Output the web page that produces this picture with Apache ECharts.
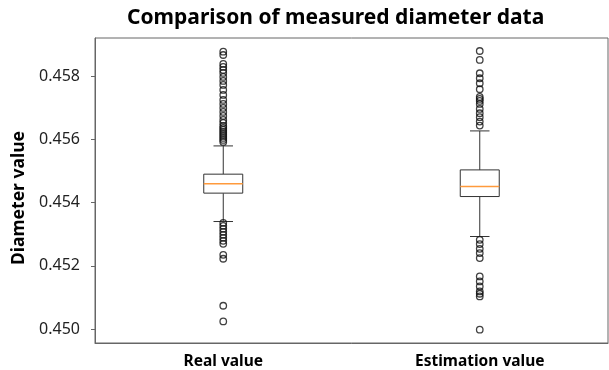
<!DOCTYPE html>
<html>
<head>
<meta charset="utf-8">
<script src="https://cdn.jsdelivr.net/npm/echarts@6/dist/echarts.min.js"></script>
<style>
  html, body { margin: 0; padding: 0; background: #fff; }
  #main { width: 609px; height: 370px; }
</style>
</head>
<body>
<div id="main"></div>
<script>
// categories
var categories = ["Real value", "Estimation value"];

// box stats: [low whisker, Q1, median, Q3, high whisker]
var realBox = [0.453405, 0.454304, 0.454598, 0.454905, 0.455800];
var estBox = [0.452930, 0.454196, 0.454513, 0.455040, 0.456275];

// outliers
var realOutliers = [
  0.458785, 0.458680, 0.458396, 0.458301, 0.458206, 0.458111, 0.457984,
  0.457858, 0.457731, 0.457573, 0.457415, 0.457256, 0.457130, 0.457003,
  0.456877, 0.456750, 0.456623, 0.456528, 0.456434, 0.456370, 0.456307,
  0.456244, 0.456180, 0.456117, 0.456054, 0.455991, 0.455927,
  0.453364, 0.453269, 0.453174, 0.453079, 0.452984, 0.452889, 0.452794,
  0.452699, 0.452351, 0.452225, 0.450737, 0.450240
];
var estOutliers = [
  0.458807, 0.458522, 0.458101, 0.457943, 0.457785, 0.457595, 0.457351,
  0.457288, 0.457225, 0.457130, 0.456972, 0.456835, 0.456709, 0.456570,
  0.456443,
  0.452826, 0.452690, 0.452541, 0.452405, 0.452247, 0.451665, 0.451506,
  0.451348, 0.451190, 0.451117, 0.451032, 0.449978
];

// y tick labels
var yTicks = [0.450, 0.452, 0.454, 0.456, 0.458];

var boxData = [[0].concat(realBox), [1].concat(estBox)];
var outlierData = realOutliers.map(function (v) { return [0, v]; })
  .concat(estOutliers.map(function (v) { return [1, v]; }));

var chart = echarts.init(document.getElementById("main"));

var option = {
  animation: false,
  title: {
    text: "Comparison of measured diameter data",
    left: 122,
    top: 3,
    textStyle: {
      fontFamily: "Noto Sans",
      fontWeight: "bold",
      fontSize: 21,
      color: "#000"
    }
  },
  grid: {
    left: 95,
    right: 1,
    top: 38,
    bottom: 27,
    show: true,
    borderColor: "#666",
    borderWidth: 1
  },
  xAxis: {
    type: "category",
    data: categories,
    axisLine: { lineStyle: { color: "#666" } },
    axisTick: { alignWithLabel: true, length: 4, lineStyle: { color: "#666" } },
    axisLabel: {
      margin: 11,
      fontFamily: "Noto Sans",
      fontWeight: "bold",
      fontSize: 15.5,
      color: "#000"
    }
  },
  yAxis: {
    type: "value",
    min: 0.449557,
    max: 0.459218,
    name: "Diameter value",
    nameLocation: "middle",
    nameGap: 64,
    nameTextStyle: {
      fontFamily: "Noto Sans",
      fontWeight: "bold",
      fontSize: 17.5,
      color: "#000",
      padding: [0, 15, 0, 0]
    },
    splitLine: { show: false },
    axisLine: { show: true, lineStyle: { color: "#666" } },
    axisTick: { show: true, length: 4, customValues: yTicks, lineStyle: { color: "#666" } },
    axisLabel: {
      customValues: yTicks,
      margin: 15,
      fontFamily: "Noto Sans",
      fontSize: 16,
      color: "#222",
      formatter: function (v) { return v.toFixed(3); }
    }
  },
  series: [
    {
      type: "custom",
      data: boxData,
      encode: { x: 0, y: [1, 2, 3, 4, 5] },
      renderItem: function (params, api) {
        var x = api.value(0);
        var lo = api.coord([x, api.value(1)]);
        var q1 = api.coord([x, api.value(2)]);
        var md = api.coord([x, api.value(3)]);
        var q3 = api.coord([x, api.value(4)]);
        var hi = api.coord([x, api.value(5)]);
        var band = api.size([1, 0])[0];
        var half = band * 0.076;
        var cap = half / 2;
        var cx = lo[0];
        var stroke = { stroke: "#333", lineWidth: 1, fill: null };
        return {
          type: "group",
          children: [
            { type: "line", shape: { x1: cx, y1: q3[1], x2: cx, y2: hi[1] }, style: stroke },
            { type: "line", shape: { x1: cx, y1: q1[1], x2: cx, y2: lo[1] }, style: stroke },
            { type: "line", shape: { x1: cx - cap, y1: hi[1], x2: cx + cap, y2: hi[1] }, style: stroke },
            { type: "line", shape: { x1: cx - cap, y1: lo[1], x2: cx + cap, y2: lo[1] }, style: stroke },
            {
              type: "rect",
              shape: { x: cx - half, y: q3[1], width: half * 2, height: q1[1] - q3[1] },
              style: { stroke: "#333", lineWidth: 1, fill: "#fff" }
            },
            {
              type: "line",
              shape: { x1: cx - half, y1: md[1], x2: cx + half, y2: md[1] },
              style: { stroke: "#ff9a3c", lineWidth: 1.5 }
            }
          ]
        };
      },
      z: 2
    },
    {
      type: "scatter",
      data: outlierData,
      symbol: "circle",
      symbolSize: 6.5,
      itemStyle: { color: "transparent", borderColor: "#111", borderWidth: 1.3 },
      z: 3
    }
  ]
};

chart.setOption(option);
</script>
</body>
</html>
